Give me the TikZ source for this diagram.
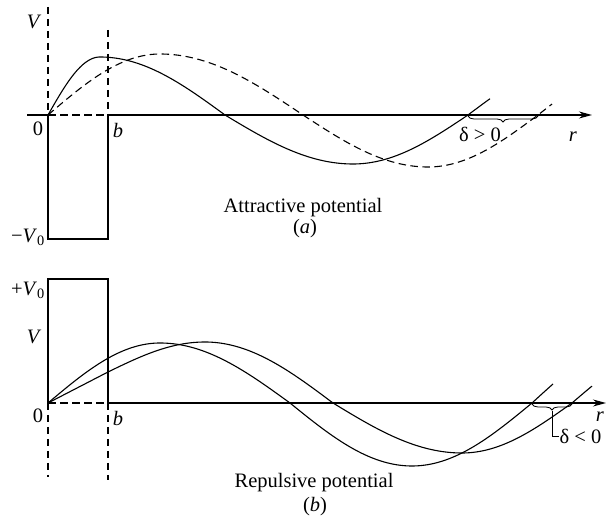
\documentclass[tikz,border=0pt]{standalone}
\usepackage{fontspec}
\setmainfont{Liberation Serif}
\usetikzlibrary{arrows.meta,decorations.pathreplacing}
\begin{document}
\begin{tikzpicture}[x=1pt,y=-1pt, line width=1.1pt,
  dsh/.style={dash pattern=on 7.5pt off 4.5pt},
  lbl/.style={font=\fontsize{20.5}{23}\selectfont, inner sep=0pt},
  axisarrow/.style={-{Stealth[length=13pt,width=7pt]}},
  bracedown/.style={decorate,decoration={brace,mirror,amplitude=6pt}},
  wave/.style={samples=40,variable=\t}]
\useasboundingbox (0,0) rectangle (606,518);
% ---------- panel (a) ----------
\coordinate (oa) at (48,115);
\coordinate (ba) at (108,115);
\coordinate (axa0) at (27,115);
\coordinate (axa1) at (592,115);
\coordinate (va) at (48,7);
\coordinate (bta) at (108,30);
\coordinate (wl) at (48,239);
\coordinate (wr) at (108,239);
\draw (axa0) -- (oa);
\draw[dsh] (oa) -- (ba);
\draw[axisarrow] (ba) -- (axa1);
\draw[dsh] (va) -- (oa);
\draw[dsh] (bta) -- (ba);
\draw (oa) -- (wl) -- (wr) -- (ba);
% solid wave
\draw (oa) -- plot[wave,domain=48:100] (\t,{115-58*sin(90*(\t-48)/52)})
  -- plot[wave,domain=100:225] (\t,{115-58*cos(90*(\t-100)/125)})
  -- plot[wave,domain=225:353] (\t,{115+49*sin(90*(\t-225)/128)})
  -- plot[wave,domain=353:468] (\t,{115+49*cos(90*(\t-353)/115)})
  -- plot[wave,domain=468:490] (\t,{115-55*sin(90*(\t-468)/115)});
% dashed wave
\draw[dsh] (oa) -- plot[wave,domain=48:160] (\t,{115-61*sin(90*(\t-48)/112)})
  -- plot[wave,domain=160:303] (\t,{115-61*cos(90*(\t-160)/143)})
  -- plot[wave,domain=303:428] (\t,{115+52*sin(90*(\t-303)/125)})
  -- plot[wave,domain=428:538] (\t,{115+52*cos(90*(\t-428)/110)})
  -- plot[wave,domain=538:552] (\t,{115-55*sin(90*(\t-538)/110)});
\coordinate (da0) at (468,116);
\coordinate (da1) at (538,116);
\draw[bracedown,line width=0.8pt] (da0) -- (da1);
\node[lbl] (Va) at (34,22) {\textit{V}};
\node[lbl] (Za) at (38,128.5) {0};
\node[lbl] (Ba) at (118,130) {\textit{b}};
\node[lbl] (mV) at (28,237) {−\textit{V}\textsubscript{0}};
\node[lbl] (ra) at (573,137) {\textit{r}};
\node[lbl] (dpos) at (480,134.5) {δ > 0};
\node[lbl,anchor=base] (ta) at (303,213) {Attractive potential};
\node[lbl,anchor=base] (ca) at (305,233.5) {(\textit{a})};
% ---------- panel (b) ----------
\coordinate (ob) at (48,403);
\coordinate (bb) at (108,403);
\coordinate (axb1) at (606,403);
\coordinate (bl) at (48,279);
\coordinate (br) at (108,279);
\coordinate (dl) at (48,477);
\coordinate (dr) at (108,480);
\draw[dsh] (ob) -- (bb);
\draw[axisarrow] (bb) -- (axb1);
\draw (ob) -- (bl) -- (br) -- (bb);
\draw[dsh] (ob) -- (dl);
\draw[dsh] (bb) -- (dr);
% curve A
\draw (ob) -- plot[wave,domain=48:160] (\t,{403-60*sin(90*(\t-48)/112)})
  -- plot[wave,domain=160:290] (\t,{403-60*cos(90*(\t-160)/130)})
  -- plot[wave,domain=290:412] (\t,{403+63*sin(90*(\t-290)/122)})
  -- plot[wave,domain=412:532] (\t,{403+63*cos(90*(\t-412)/120)})
  -- plot[wave,domain=532:553] (\t,{403-70*sin(90*(\t-532)/120)});
% curve B
\draw (ob) -- plot[wave,domain=48:108] (\t,{403-31*(\t-48)/60})
  -- plot[wave,domain=108:205] (\t,{403-31-30*sin(90*(\t-108)/97)})
  -- plot[wave,domain=205:333] (\t,{403-61*cos(90*(\t-205)/128)})
  -- plot[wave,domain=333:462] (\t,{403+50*sin(90*(\t-333)/129)})
  -- plot[wave,domain=462:572] (\t,{403+50*cos(90*(\t-462)/110)})
  -- plot[wave,domain=572:592] (\t,{403-60*sin(90*(\t-572)/110)});
\coordinate (db0) at (532,404);
\coordinate (db1) at (572,404);
\draw[bracedown,line width=0.8pt] (db0) -- (db1);
\coordinate (tipb) at (552,411);
\coordinate (cnb) at (552,436.5);
\node[lbl,anchor=west] (dneg) at (559,436.5) {δ < 0};
\draw[line width=0.8pt] (tipb) -- (cnb) -- (dneg.west);
\node[lbl] (pV) at (28,290) {+\textit{V}\textsubscript{0}};
\node[lbl] (Vb) at (34,337) {\textit{V}};
\node[lbl] (Zb) at (38,416) {0};
\node[lbl] (Bb) at (118,418) {\textit{b}};
\node[lbl] (rb) at (600,417) {\textit{r}};
\node[lbl,anchor=base] (tb) at (314,488) {Repulsive potential};
\node[lbl,anchor=base] (cb) at (315,511.5) {(\textit{b})};
\end{tikzpicture}
\end{document}
